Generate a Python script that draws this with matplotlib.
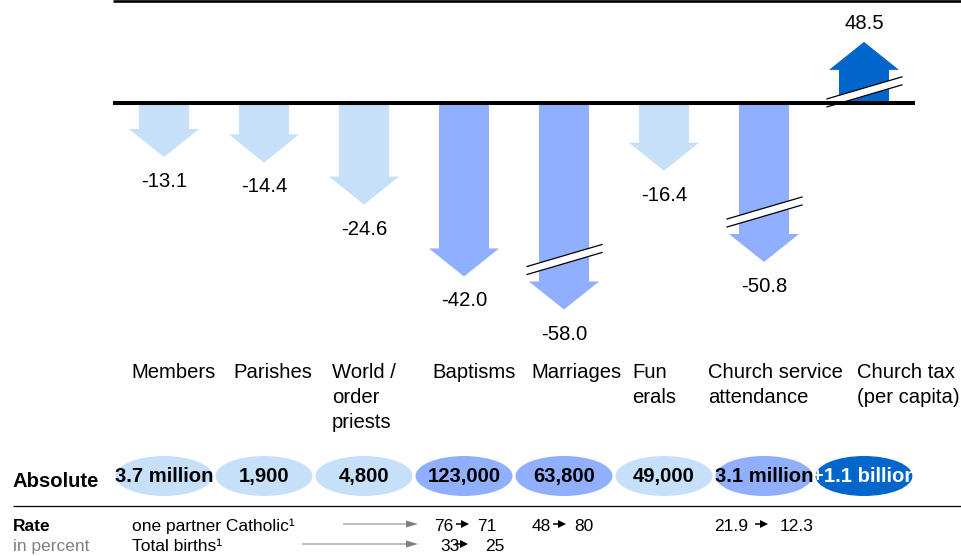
import matplotlib.pyplot as plt
import numpy as np
from matplotlib.patches import Polygon, Ellipse, FancyArrow

plt.rcParams['font.family'] = ['Liberation Sans', 'DejaVu Sans']

# change in percent per indicator
categories = [["Members"], ["Parishes"], ["World /", "order", "priests"], ["Baptisms"],
              ["Marriages"], ["Fun", "erals"], ["Church service", "attendance"],
              ["Church tax", "(per capita)"]]
change = [-13.1, -14.4, -24.6, -42.0, -58.0, -16.4, -50.8, 48.5]
absolute = ["3.7 million", "1,900", "4,800", "123,000", "63,800", "49,000",
            "3.1 million", "+1.1 billion"]
shade = [0, 0, 0, 1, 1, 0, 1, 2]

# rates in percent (from -> to)
rate_labels = ["one partner Catholic¹", "Total births¹"]
rate_from = ["76", "33", "48", "21.9"]
rate_to = ["71", "25", "80", "12.3"]
rate_row = [0, 1, 0, 0]

# layout
colors = ["#C6E0FA", "#91AFFF", "#0066CC"]
cut_to = [None, None, None, None, 50.0, None, 38.5, 14.8]   # broken arrows
label_x = [131, 233, 332, 432, 531, 632, 708, 857]
rate_x = [434, 440, 532, 714]
rate_arrow_x = [456, 455, 553, 755]
rate_to_x = [477, 485, 574, 780]
rate_y = [524, 544]
BASE = 103
PX = 4.13
HEAD = 28
FS = 14.6
RFS = 12.5

fig = plt.figure(figsize=(9.62, 5.56), dpi=100)
ax = fig.add_axes([0, 0, 1, 1])
ax.set_xlim(0, 962)
ax.set_ylim(556, 0)
ax.axis('off')

xs = 164 + 100 * np.arange(len(change))

for i, (xc, v) in enumerate(zip(xs, change)):
    col = colors[shade[i]]
    s = np.sign(v)
    L = (cut_to[i] if cut_to[i] else abs(v)) * PX
    tip = BASE - s * L
    neck = tip + s * HEAD
    pts = [(xc - 25, BASE), (xc - 25, neck), (xc - 35, neck), (xc, tip),
           (xc + 35, neck), (xc + 25, neck), (xc + 25, BASE)]
    ax.add_patch(Polygon(pts, closed=True, fc=col, ec='none', zorder=2))
    if cut_to[i]:
        bc = neck + s * 22
        x0, x1 = xc - 37, xc + 38
        up = [(x0, bc + 7), (x1, bc - 15)]
        lo = [(x0, bc + 15), (x1, bc - 7)]
        ax.add_patch(Polygon(up + lo[::-1], closed=True, fc='white', ec='none', zorder=3))
        for seg in (up, lo):
            ax.plot([p[0] for p in seg], [p[1] for p in seg], color='black', lw=0.9, zorder=4)
    ty = tip + 30 if v < 0 else tip - 13
    ax.text(xc, ty, f"{v:.1f}", ha='center', va='baseline', fontsize=FS, zorder=5)

    for k, line in enumerate(categories[i]):
        ax.text(label_x[i], 378 + 25 * k, line, ha='left', va='baseline', fontsize=FS)

    ax.add_patch(Ellipse((xc, 476), 97, 40, fc=col, ec='none', zorder=2))
    ax.text(xc, 482, absolute[i], ha='center', va='baseline', fontsize=FS,
            fontweight='bold', color='white' if shade[i] == 2 else 'black', zorder=3)

ax.plot([113, 962], [1, 1], color='black', lw=1.9, solid_capstyle='butt')
ax.plot([113, 915], [BASE, BASE], color='black', lw=2.9, solid_capstyle='butt', zorder=6)
ax.plot([13, 962], [506, 506], color='black', lw=0.9, solid_capstyle='butt')

ax.text(13, 487, "Absolute", fontsize=FS, fontweight='bold', va='baseline')
ax.text(13, 531, "Rate", fontsize=RFS, fontweight='bold', va='baseline')
ax.text(13, 551, "in percent", fontsize=RFS, color='#808080', va='baseline')

for j, lab in enumerate(rate_labels):
    ax.text(132, rate_y[j] + 7, lab, fontsize=RFS, va='baseline')
ax.add_patch(FancyArrow(343, rate_y[0], 75, 0, width=1.0, head_width=7, head_length=12,
                        length_includes_head=True, color='#808080', lw=0))
ax.add_patch(FancyArrow(302, rate_y[1], 116, 0, width=1.0, head_width=7, head_length=12,
                        length_includes_head=True, color='#808080', lw=0))

for a, b, r, xa, xr, xb in zip(rate_from, rate_to, rate_row, rate_x, rate_arrow_x, rate_to_x):
    y = rate_y[r]
    ax.text(xa, y + 7, a, fontsize=RFS, va='baseline')
    ax.add_patch(FancyArrow(xr, y, 13, 0, width=1.5, head_width=8, head_length=8,
                            length_includes_head=True, color='black', lw=0, zorder=4))
    ax.text(xb, y + 7, b, fontsize=RFS, va='baseline')

fig.savefig("out.png", dpi=100)
